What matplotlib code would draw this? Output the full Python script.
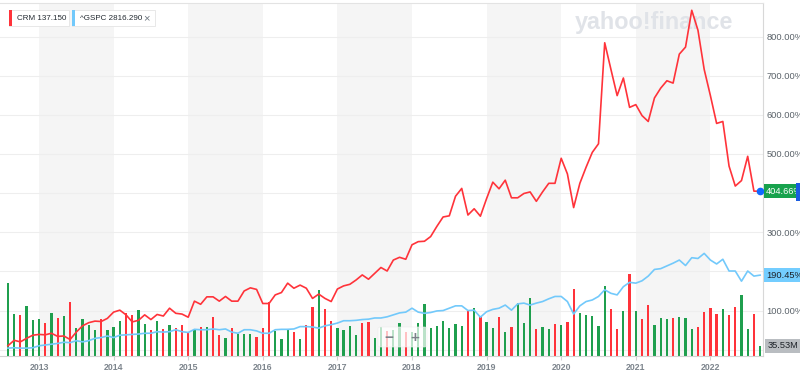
import numpy as np
import matplotlib
matplotlib.use("Agg")
import matplotlib.pyplot as plt
from matplotlib.patches import Rectangle, FancyBboxPatch
from matplotlib.transforms import blended_transform_factory

plt.rcParams['font.family'] = ['Liberation Sans', 'DejaVu Sans']

# monthly points from Aug 2012 to Sep 2022 (month 0 = Jan 2013)
years = list(range(2013, 2023))

crm_pct = [10, 24, 20, 29, 37,
           39, 38, 42, 34, 35, 26, 45, 61, 69, 73, 72, 80,
           96, 101, 89, 71, 75, 89, 77, 90, 86, 106, 93, 91,
           83, 124, 116, 135, 135, 124, 136, 124, 124, 150, 158, 154,
           118, 118, 140, 146, 170, 157, 165, 157, 131, 142, 131, 123,
           155, 163, 167, 178, 191, 180, 195, 210, 201, 229, 236, 231,
           268, 276, 277, 289, 315, 339, 342, 392, 412, 344, 360, 341,
           386, 428, 411, 433, 388, 388, 399, 403, 379, 403, 425, 425,
           489, 449, 363, 425, 466, 504, 526, 784, 716, 649, 694, 619,
           626, 598, 583, 643, 668, 687, 681, 755, 773, 867, 816, 716,
           649, 578, 583, 469, 418, 432, 494, 405, 404.66]

spx_pct = [4, 5, 4, 4, 5,
           10, 12, 14, 16, 19, 18, 23, 20, 23, 29, 31, 35,
           31, 37, 38, 39, 40, 42, 42, 46, 45, 46, 51, 46,
           44, 52, 51, 51, 53, 51, 53, 45, 42, 51, 51, 48,
           42, 42, 51, 52, 52, 53, 59, 59, 58, 55, 61, 64,
           68, 74, 74, 75, 77, 78, 81, 81, 84, 89, 94, 96,
           106, 96, 93, 95, 99, 100, 106, 112, 112, 100, 101, 83,
           97, 103, 106, 114, 101, 117, 119, 114, 119, 123, 130, 136,
           136, 123, 91, 112, 123, 127, 136, 153, 144, 140, 161, 172,
           170, 176, 188, 205, 207, 214, 221, 229, 215, 235, 233, 246,
           229, 219, 231, 201, 201, 175, 201, 188, 190.45]

# CRM monthly volume, millions
volume_m = [253, 145, 141, 172, 124,
            128, 113, 149, 130, 138, 185, 96, 127, 106, 90, 127, 90,
            99, 122, 147, 141, 159, 110, 90, 121, 93, 108, 96, 108,
            82, 90, 99, 99, 136, 72, 61, 96, 76, 76, 76, 67,
            96, 187, 86, 58, 90, 82, 59, 107, 170, 228, 161, 121,
            98, 90, 104, 72, 113, 118, 63, 99, 86, 90, 113, 84,
            84, 113, 179, 96, 105, 121, 98, 110, 104, 156, 167, 134,
            118, 96, 136, 82, 101, 184, 115, 201, 94, 101, 92, 110,
            107, 118, 230, 147, 141, 139, 104, 242, 161, 93, 156, 282,
            155, 128, 176, 107, 132, 127, 130, 134, 132, 92, 99, 153,
            165, 145, 162, 141, 168, 210, 92, 145, 35.53]

# G = up month, R = down month
vol_up = ("GGRGG"
          "GRGRGRGGGGRG"
          "GGRRGGRGRGRR"
          "RGRGRRGRGGGR"
          "RRGGGRGRRGRR"
          "GGGGRRGGRGGR"
          "GGGGGGGGGRGR"
          "GGRGRGGGRGGR"
          "GRRGGGGGRRGR"
          "GRRGGGRGGGRR"
          "RRGRRGGRG")

RED = '#ff333a'
GREEN = '#1f9f4e'
BLUE = '#72c9fb'

n = len(crm_pct)
months = np.arange(n) - 5

W, H = 800, 377
fig = plt.figure(figsize=(W / 100, H / 100), dpi=100)
fig.patch.set_facecolor('white')


def px_rect(x0, y0, x1, y1):
    return [x0 / W, 1 - y1 / H, (x1 - x0) / W, (y1 - y0) / H]


rect = px_rect(0, 3, 763, 356)
axv = fig.add_axes(rect)
ax = fig.add_axes(rect, sharex=axv)
ax.patch.set_visible(False)

# alternate year shading
for y in years[::2]:
    m0 = (y - 2013) * 12
    axv.axvspan(m0, m0 + 12, color='#f5f5f5', lw=0, zorder=0)

# horizontal grid behind the bars
grid_tr = blended_transform_factory(axv.transAxes, ax.transData)
for v in range(0, 900, 100):
    axv.plot([0, 1], [v, v], transform=grid_tr, color='#eeeeee', lw=0.8, zorder=0.8)

axv.text(575 / W, 1 - 22 / H, "yahoo!finance", transform=fig.transFigure,
         fontsize=16.8, fontweight='bold', color='#e0e3e8', va='center', ha='left', zorder=1)

bar_colors = [GREEN if c == 'G' else RED for c in vol_up]
axv.bar(months, volume_m, width=0.36, color=bar_colors, zorder=2)

ax.plot(months, spx_pct, color=BLUE, lw=1.2, zorder=3)
ax.plot(months, crm_pct, color=RED, lw=1.2, zorder=4)
ax.plot(months[-1], crm_pct[-1], 'o', ms=4.5, color='#0f69ff', clip_on=False, zorder=6)

px_per_month = 74.6 / 12
axv.set_xlim(-39 / px_per_month, (763 - 39) / px_per_month)
axv.set_ylim(0, 1218)
ax.set_ylim(-16.1, 885.6)

for s in axv.spines.values():
    s.set_visible(False)
axv.tick_params(left=False, labelleft=False, bottom=False, labelbottom=False)

ax.spines['left'].set_visible(False)
ax.spines['top'].set_color('#e3e3e3')
ax.spines['right'].set_color('#d8d8d8')
ax.spines['bottom'].set_color('#d3d3d3')
for s in ax.spines.values():
    s.set_linewidth(0.8)

# 200% and 400% labels sit under the value tags, as in the source
ax.yaxis.tick_right()
yt = list(range(0, 900, 100))
ax.set_yticks(yt)
ax.set_yticklabels(["" if v in (200, 400) else f"{v:.2f}%" for v in yt])
ax.tick_params(axis='y', length=0, pad=2.6, labelsize=6.7, labelcolor='#5b636a')

ax.set_xticks([(y - 2013) * 12 for y in years])
ax.set_xticklabels([str(y) for y in years])
ax.tick_params(axis='x', length=3, color='#d3d3d3', pad=2, labelsize=6.3, labelcolor='#7d858d')
for lbl in ax.get_xticklabels():
    lbl.set_fontweight('bold')

# last value tags
tag_tr = blended_transform_factory(ax.transAxes, ax.transData)
ax.text(1.004, crm_pct[-1], f"{crm_pct[-1]:.2f}%", transform=tag_tr, fontsize=6.7, color='white',
        va='center', ha='left', clip_on=False, zorder=7,
        bbox=dict(boxstyle='square,pad=0.25', fc='#17a24d', ec='none'))
ax.text(1.004, spx_pct[-1], f"{spx_pct[-1]:.2f}%", transform=tag_tr, fontsize=6.7, color='#1d2228',
        va='center', ha='left', clip_on=False, zorder=7,
        bbox=dict(boxstyle='square,pad=0.25', fc='#73cdff', ec='none'))
vol_tr = blended_transform_factory(ax.transAxes, axv.transData)
ax.text(1.006, volume_m[-1], f"{volume_m[-1]:.2f}M", transform=vol_tr, fontsize=6.7, color='#1d2228',
        va='center', ha='left', clip_on=False, zorder=7,
        bbox=dict(boxstyle='square,pad=0.25', fc='#b9bdc1', ec='none'))
fig.add_artist(Rectangle((796 / W, 1 - 201 / H), 4 / W, 18 / H, transform=fig.transFigure,
                         fc='#1a5ce0', ec='none'))

# legend chips
def chip(x0, x1, color, label, close=False):
    fig.add_artist(Rectangle((x0 / W, 1 - 26 / H), (x1 - x0) / W, 16 / H, transform=fig.transFigure,
                             fc='white', ec='#e4e4e4', lw=0.6))
    fig.add_artist(Rectangle((x0 / W, 1 - 26 / H), 3 / W, 16 / H, transform=fig.transFigure,
                             fc=color, ec='none'))
    fig.text((x0 + 8) / W, 1 - 18 / H, label, fontsize=5.8, color='#232a31', va='center', ha='left')
    if close:
        fig.text((x1 - 9) / W, 1 - 18 / H, "\u00d7", fontsize=8, color='#6e7780', va='center', ha='center')


chip(9, 69, RED, "CRM 137.150")
chip(72, 155, BLUE, "^GSPC 2816.290", close=True)

# zoom control
fig.add_artist(FancyBboxPatch((378 / W, 1 - 347 / H), 49 / W, 20 / H, transform=fig.transFigure,
                              boxstyle='round,pad=0,rounding_size=0.004', fc='white', ec='#eeeeee',
                              lw=0.6, alpha=0.7))
fig.text(389 / W, 1 - 338 / H, "\u2212", fontsize=11, fontweight='bold', color='#7b8189', ha='center', va='center')
fig.text(415 / W, 1 - 338 / H, "+", fontsize=11, fontweight='bold', color='#7b8189', ha='center', va='center')

fig.savefig('out.png', dpi=100, facecolor='white')
